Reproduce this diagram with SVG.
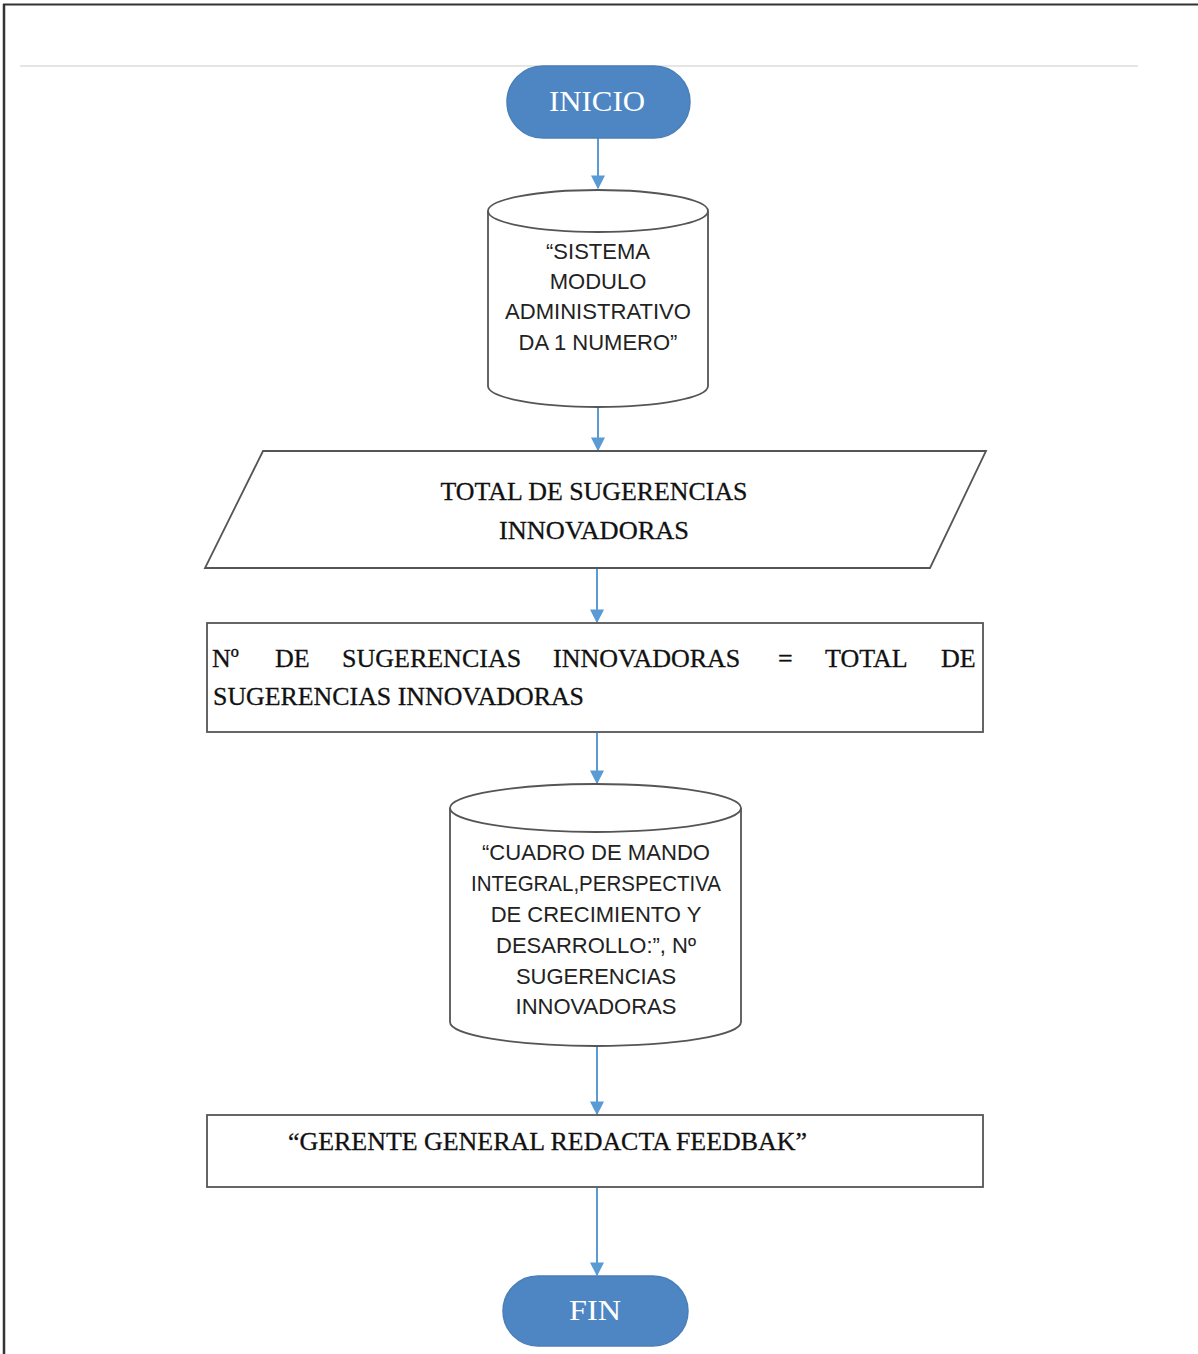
<svg xmlns="http://www.w3.org/2000/svg" width="1198" height="1354" viewBox="0 0 1198 1354">
  <style>
    .shape { fill: #ffffff; stroke: #555555; stroke-width: 1.8; }
    .term { fill: #4d86c3; stroke: #4a7fb8; stroke-width: 1.5; }
    .term-text { font-family: "Liberation Serif", "Times New Roman", serif; font-size: 30px; fill: #ffffff; text-anchor: middle; }
    .sans { font-family: "Liberation Sans", Arial, sans-serif; font-size: 22px; fill: #222222; text-anchor: middle; }
    .serif { font-family: "Liberation Serif", "Times New Roman", serif; font-size: 26px; fill: #111111; stroke: #111111; stroke-width: 0.3; }
    .link { fill: none; stroke: #5b9bd5; stroke-width: 2; marker-end: url(#arrow); }
  </style>
  <defs>
    <marker id="arrow" viewBox="0 0 10 10" refX="9" refY="5" markerWidth="14" markerHeight="14" markerUnits="userSpaceOnUse" orient="auto">
      <path d="M0,0 L10,5 L0,10 z" fill="#5b9bd5"/>
    </marker>
  </defs>

  <rect width="1198" height="1354" fill="#ffffff"/>
  <!-- page frame -->
  <line x1="3" y1="4.5" x2="1198" y2="4.5" stroke="#333" stroke-width="2"/>
  <line x1="4" y1="4" x2="4" y2="1354" stroke="#333" stroke-width="2.5"/>
  <line x1="20" y1="66" x2="1138" y2="66" stroke="#dddddd" stroke-width="1.5"/>

  <!-- connectors -->
  <g id="connectors">
    <line class="link" x1="598" y1="138" x2="598" y2="188"/>
    <line class="link" x1="598" y1="407" x2="598" y2="450"/>
    <line class="link" x1="597" y1="569" x2="597" y2="622"/>
    <line class="link" x1="597" y1="733" x2="597" y2="783"/>
    <line class="link" x1="597" y1="1047" x2="597" y2="1114"/>
    <line class="link" x1="597" y1="1188" x2="597" y2="1275"/>
  </g>

  <g id="inicio">
    <rect class="term" x="507" y="66" width="183" height="72" rx="36" ry="36"/>
    <text class="term-text" x="597" y="111" textLength="96" lengthAdjust="spacingAndGlyphs">INICIO</text>
  </g>

  <g id="sistema">
    <path class="shape" d="M488,211 L488,386 A110,21 0 0 0 708,386 L708,211 A110,21 0 0 0 488,211 Z"/>
    <path class="shape" fill="none" d="M488,211 A110,21 0 0 0 708,211"/>
    <text class="sans" x="598" y="259">“SISTEMA</text>
    <text class="sans" x="598" y="289">MODULO</text>
    <text class="sans" x="598" y="319" textLength="186" lengthAdjust="spacingAndGlyphs">ADMINISTRATIVO</text>
    <text class="sans" x="598" y="350">DA 1 NUMERO”</text>
  </g>

  <g id="total">
    <polygon class="shape" points="263,451 986,451 930,568 205,568"/>
    <text class="serif" x="594" y="500" text-anchor="middle" textLength="307" lengthAdjust="spacingAndGlyphs">TOTAL DE SUGERENCIAS</text>
    <text class="serif" x="594" y="539" text-anchor="middle" textLength="190" lengthAdjust="spacingAndGlyphs">INNOVADORAS</text>
  </g>

  <g id="asignacion">
    <rect class="shape" x="207" y="623" width="776" height="109"/>
    <text class="serif" y="667">
      <tspan x="212">Nº</tspan>
      <tspan x="275">DE</tspan>
      <tspan x="342">SUGERENCIAS</tspan>
      <tspan x="553">INNOVADORAS</tspan>
      <tspan x="778">=</tspan>
      <tspan x="825">TOTAL</tspan>
      <tspan x="941">DE</tspan>
    </text>
    <text class="serif" x="213" y="705" textLength="371" lengthAdjust="spacingAndGlyphs">SUGERENCIAS INNOVADORAS</text>
  </g>

  <g id="cuadro">
    <path class="shape" d="M450,808 L450,1022 A145.5,24 0 0 0 741,1022 L741,808 A145.5,24 0 0 0 450,808 Z"/>
    <path class="shape" fill="none" d="M450,808 A145.5,24 0 0 0 741,808"/>
    <text class="sans" x="596" y="860" textLength="228" lengthAdjust="spacingAndGlyphs">“CUADRO DE MANDO</text>
    <text class="sans" x="596" y="891" textLength="250" lengthAdjust="spacingAndGlyphs">INTEGRAL,PERSPECTIVA</text>
    <text class="sans" x="596" y="922">DE CRECIMIENTO Y</text>
    <text class="sans" x="596" y="953">DESARROLLO:”, Nº</text>
    <text class="sans" x="596" y="984">SUGERENCIAS</text>
    <text class="sans" x="596" y="1014">INNOVADORAS</text>
  </g>

  <g id="feedback">
    <rect class="shape" x="207" y="1115" width="776" height="72"/>
    <text class="serif" x="288" y="1150" textLength="519" lengthAdjust="spacingAndGlyphs">“GERENTE GENERAL REDACTA FEEDBAK”</text>
  </g>

  <g id="fin">
    <rect class="term" x="503" y="1276" width="185" height="70" rx="35" ry="35"/>
    <text class="term-text" x="595" y="1320" textLength="52" lengthAdjust="spacingAndGlyphs">FIN</text>
  </g>
</svg>
